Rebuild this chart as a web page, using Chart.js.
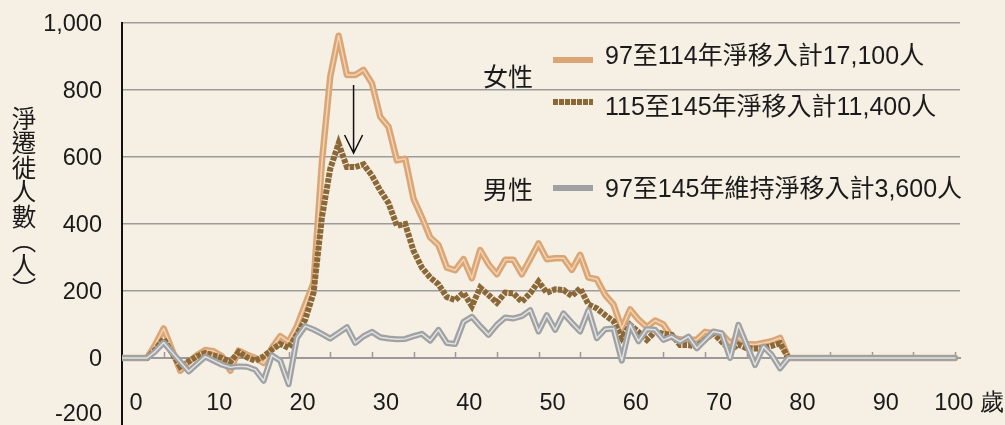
<!DOCTYPE html>
<html>
<head>
<meta charset="utf-8">
<script src="https://cdn.jsdelivr.net/npm/chart.js@4.4.1/dist/chart.umd.min.js"></script>
<style>
  html, body { margin: 0; padding: 0; background: #F6EFE4; }
  body { width: 1005px; height: 425px; overflow: hidden; position: relative;
    font-family: "Liberation Sans", Arial, "Noto Sans CJK TC", sans-serif; color: #1a1a1a; }
  #chart { position: absolute; left: 0; top: 0; }
  .ytitle { position: absolute; left: 11px; top: 106px; writing-mode: vertical-rl;
    font-family: "Noto Sans CJK TC", sans-serif; font-size: 24.5px; line-height: 24.5px; }
  .group { position: absolute; left: 483px; font-family: "Noto Sans CJK TC", sans-serif;
    font-size: 25px; line-height: 25px; }
  .txt { position: absolute; left: 605px; font-size: 25px; line-height: 25px; white-space: nowrap; }
  .sw { position: absolute; left: 553px; width: 40px; height: 6px; }
</style>
</head>
<body>
<canvas id="chart" width="1005" height="425"></canvas>
<div class="ytitle">淨遷徙人數（人）</div>
<div class="group" style="top:63px">女性</div>
<div class="group" style="top:176px">男性</div>
<div class="sw" style="top:57px;background:#DBA676"></div>
<div class="sw" style="top:99px;background:repeating-linear-gradient(90deg,#8B6838 0 5px,transparent 5px 6px)"></div>
<div class="sw" style="top:185px;background:#9FA1A3"></div>
<div class="txt" style="top:43px">97至114年淨移入計17,100人</div>
<div class="txt" style="top:94px">115至145年淨移入計11,400人</div>
<div class="txt" style="top:176px">97至145年維持淨移入計3,600人</div>
<script>
const ages = [0,1,2,3,4,5,6,7,8,9,10,11,12,13,14,15,16,17,18,19,20,
  21,22,23,24,25,26,27,28,29,30,31,32,33,34,35,36,37,38,39,40,
  41,42,43,44,45,46,47,48,49,50,51,52,53,54,55,56,57,58,59,60,
  61,62,63,64,65,66,67,68,69,70,71,72,73,74,75,76,77,78,79,80,
  81,82,83,84,85,86,87,88,89,90,91,92,93,94,95,96,97,98,99,100];

// 女性 97至114年
const female97 = [0,0,0,0,40,88,25,-38,-12,8,24,20,5,-38,22,10,0,-15,30,65,48,
  95,160,225,585,840,962,845,845,860,820,720,690,590,595,475,420,360,337,270,262,
  295,238,322,280,250,293,293,250,295,342,295,298,298,263,308,240,235,188,160,88,
  145,115,92,112,100,62,55,54,55,78,74,72,45,60,42,40,45,50,60,0,
  0,0,0,0,0,0,0,0,0,0,0,0,0,0,0,0,0,0,0,0];

// 女性 115至145年
const female115 = [0,0,0,0,25,58,15,-26,-10,5,15,8,0,-12,18,2,-8,5,25,42,30,
  70,115,195,420,565,640,570,570,578,545,500,462,395,400,320,270,240,220,182,173,
  195,155,210,188,165,195,193,168,193,228,195,205,203,185,208,160,148,128,110,60,
  99,78,54,79,72,69,39,39,34,55,74,49,24,40,29,28,29,36,44,0,
  0,0,0,0,0,0,0,0,0,0,0,0,0,0,0,0,0,0,0,0];

// 男性 97至145年
const male97 = [0,0,0,0,20,46,17,-11,-40,-18,4,-8,-20,-28,-25,-26,-35,-68,8,-8,-78,
  60,95,85,72,58,75,92,45,65,78,62,58,56,57,65,72,52,84,45,42,
  108,123,95,69,99,121,118,125,143,79,128,84,133,105,79,143,59,86,88,-8,
  99,50,86,84,54,64,49,64,29,54,79,74,0,99,39,-21,34,9,-31,0,
  0,0,0,0,0,0,0,0,0,0,0,0,0,0,0,0,0,0,0,0];

const xTickValues = [0,5,10,15,20,25,30,35,40,45,50,55,60,65,70,75,80,85,90,95,100];
const xTickLabels = ['0','10','20','30','40','50','60','70','80','90','100 歲'];
const yTickLabels = { '-200': '-200', 0: '0', 200: '200', 400: '400', 600: '600', 800: '800', 1000: '1,000' };
const arrowAt = { age: 27.8, from: 815, to: 612 };

const tickFont = { family: '"Liberation Sans", Arial, sans-serif', size: 23.5 };

function points(values) {
  return ages.map((a, i) => ({ x: a, y: values[i] }));
}

const insideTicks = {
  id: 'insideTicks',
  beforeDatasetsDraw(chart) {
    const { ctx, scales: { x, y } } = chart;
    const y0 = y.getPixelForValue(0);
    ctx.save();
    ctx.strokeStyle = '#9a9a9a';
    ctx.lineWidth = 1.5;
    xTickValues.forEach(v => {
      if (v === 0) return;
      const px = Math.round(x.getPixelForValue(v)) + 0.5;
      ctx.beginPath();
      ctx.moveTo(px, y0 - 6);
      ctx.lineTo(px, y0);
      ctx.stroke();
    });
    ctx.restore();
  }
};

const extras = {
  id: 'extras',
  afterDraw(chart) {
    const { ctx, scales: { x, y } } = chart;
    // bottom label stays inside the picture
    ctx.save();
    ctx.font = tickFont.size + 'px ' + tickFont.family;
    ctx.fillStyle = '#1a1a1a';
    ctx.textAlign = 'right';
    ctx.textBaseline = 'middle';
    ctx.fillText(yTickLabels['-200'], y.right - 20, chart.chartArea.bottom - 10);

    // arrow
    const ax = x.getPixelForValue(arrowAt.age);
    const top = y.getPixelForValue(arrowAt.from);
    const tip = y.getPixelForValue(arrowAt.to);
    ctx.strokeStyle = '#111';
    ctx.lineWidth = 1.5;
    ctx.beginPath();
    ctx.moveTo(ax, top);
    ctx.lineTo(ax, tip);
    ctx.moveTo(ax - 9, tip - 18);
    ctx.lineTo(ax, tip);
    ctx.lineTo(ax + 9, tip - 18);
    ctx.stroke();
    ctx.restore();
  }
};

const line = (data, color, width, order, extra) => Object.assign({
  data: points(data),
  borderColor: color,
  borderWidth: width,
  pointRadius: 0,
  tension: 0,
  borderJoinStyle: 'round',
  borderCapStyle: 'round',
  order: order
}, extra || {});

new Chart(document.getElementById('chart'), {
  type: 'line',
  data: {
    datasets: [
      line(male97, '#E2E2E2', 1.5, 0),
      line(male97, '#9FA1A3', 6, 1),
      line(female115, '#8B6838', 6, 2, { borderDash: [4.5, 1.2], borderCapStyle: 'butt', borderJoinStyle: 'miter' }),
      line(female97, '#F2D3B2', 1.5, 3),
      line(female97, '#DBA676', 6.5, 4)
    ]
  },
  options: {
    responsive: false,
    animation: false,
    layout: { padding: { top: 23, right: 45, bottom: 0, left: 0 } },
    plugins: { legend: { display: false }, tooltip: { enabled: false } },
    scales: {
      x: {
        type: 'linear',
        position: { y: 0 },
        min: 0,
        max: 100.6,
        afterBuildTicks: axis => { axis.ticks = xTickValues.map(v => ({ value: v })); },
        afterFit: s => { s.paddingLeft = 0; s.paddingRight = 0; },
        grid: { display: true, drawOnChartArea: false, drawTicks: false },
        border: { color: '#9a9a9a', width: 2 },
        ticks: {
          autoSkip: false,
          maxRotation: 0,
          padding: 31,
          labelOffset: 14,
          color: '#1a1a1a',
          font: tickFont,
          callback: v => (v % 10 === 0 ? xTickLabels[v / 10] : '')
        }
      },
      y: {
        min: -200,
        max: 1000,
        afterFit: s => { s.width = 122; s.paddingTop = 0; s.paddingBottom = 0; },
        grid: {
          drawTicks: false,
          lineWidth: 1.5,
          color: c => (c.tick && c.tick.value === -200 ? 'rgba(0,0,0,0)' : '#9c9c9c')
        },
        border: { color: '#111', width: 2 },
        ticks: {
          stepSize: 200,
          padding: 20,
          labelOffset: 2,
          color: '#1a1a1a',
          font: tickFont,
          callback: v => (v === -200 ? '' : yTickLabels[v])
        }
      }
    }
  },
  plugins: [insideTicks, extras]
});
</script>
</body>
</html>
